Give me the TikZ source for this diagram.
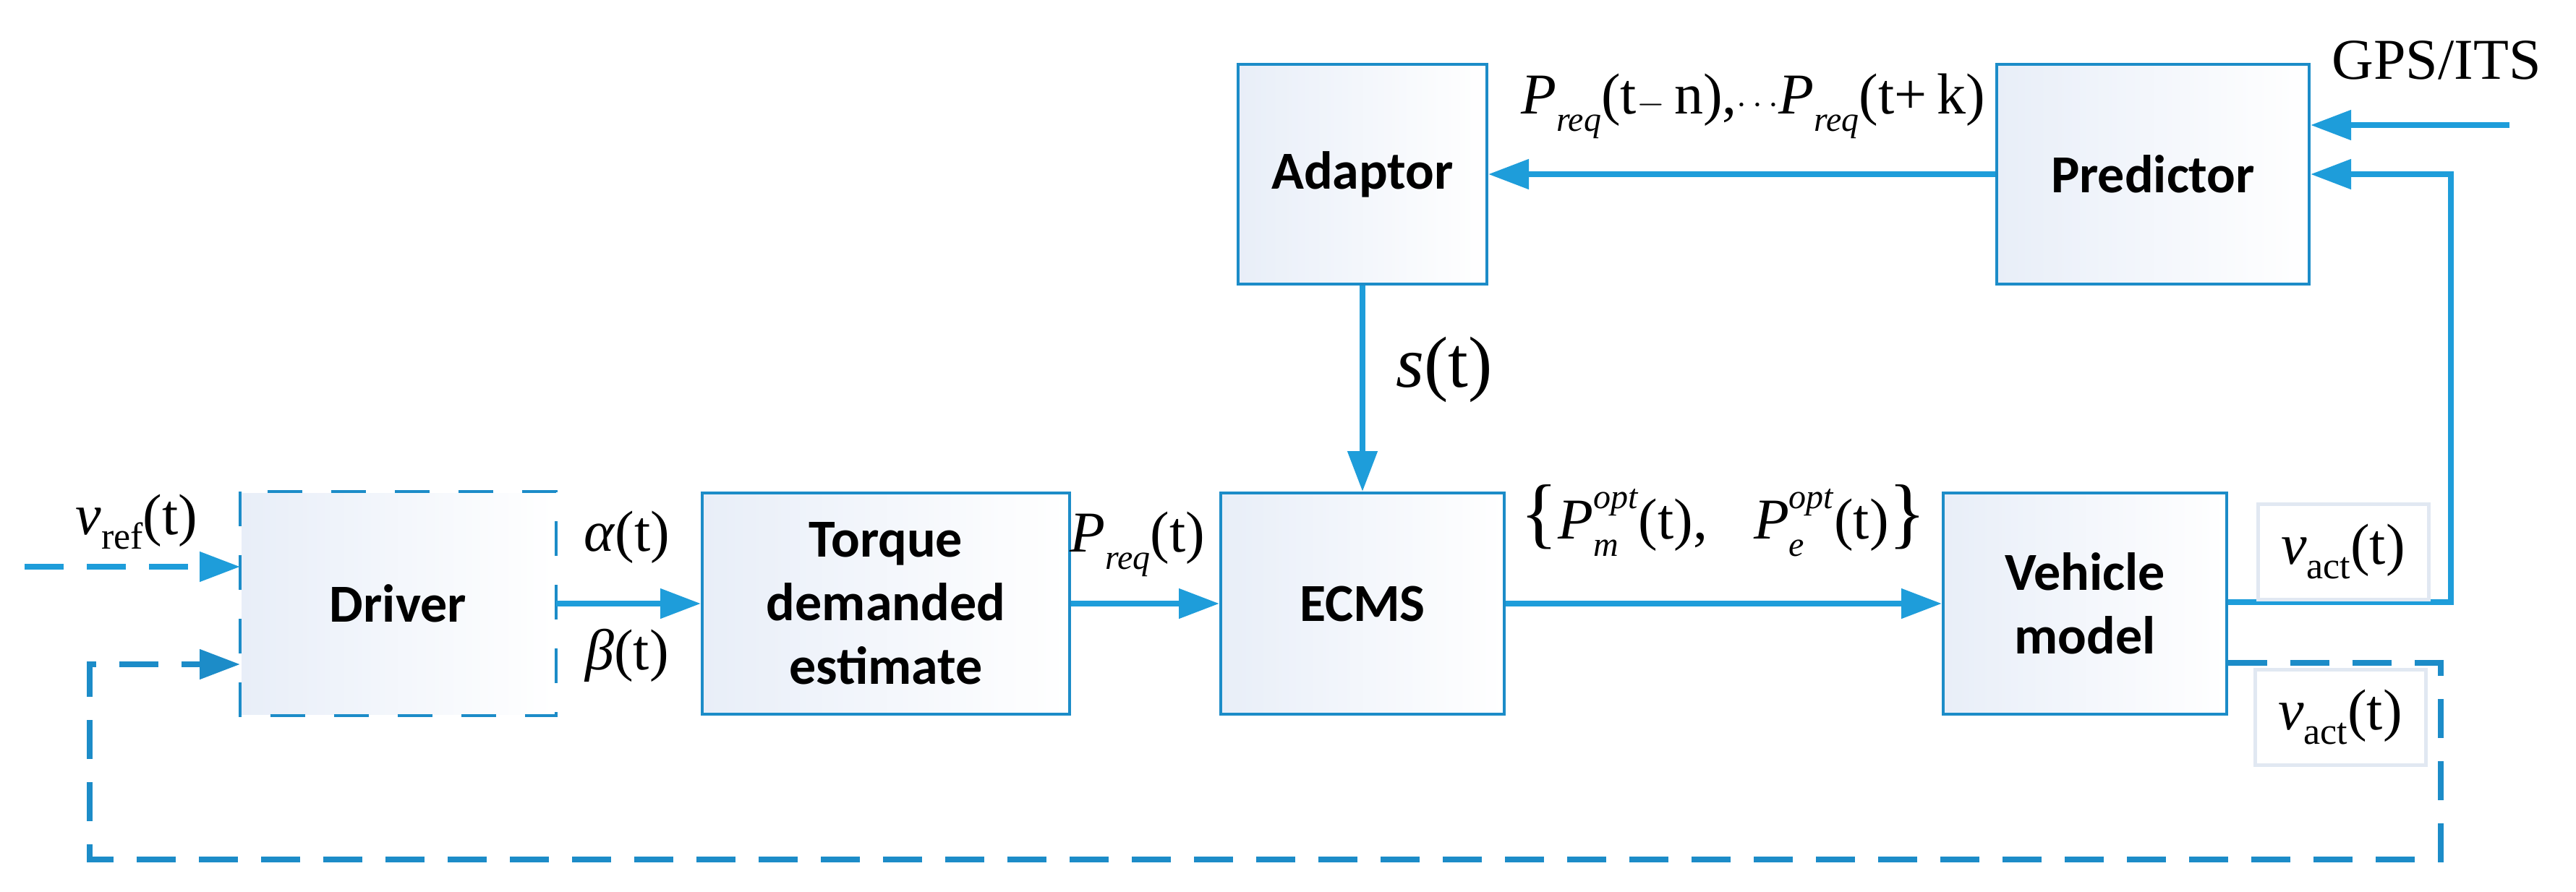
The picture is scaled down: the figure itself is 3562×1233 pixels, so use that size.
\documentclass[tikz,border=0pt]{standalone}
\usepackage{fontspec}
\setmainfont{Liberation Serif}
\newfontfamily\boxfont{Carlito}
\usetikzlibrary{arrows.meta}
\definecolor{ln}{RGB}{28,140,200}
\definecolor{ar}{RGB}{30,157,218}
\definecolor{sh}{RGB}{232,238,248}
\definecolor{lb}{RGB}{225,232,242}
\newcommand{\mysupsub}[2]{\raisebox{-12pt}{\fontsize{24}{33}\selectfont\begin{tabular}[b]{@{}l@{}}\textit{#1}\\\textit{#2}\end{tabular}}}
\newcommand{\mysub}[1]{\raisebox{-0.3em}{\fontsize{24}{26}\selectfont\textit{#1}}}
\begin{document}
\begin{tikzpicture}[x=0.5pt,y=-0.5pt,
  blk/.style={draw=ln,line width=2pt,shading=axis,shading angle=135,left color=sh,right color=white,
    font=\boxfont\bfseries\fontsize{37}{44}\selectfont,align=center,inner sep=0pt},
  arr/.style={draw=ar,line width=4pt,-{Triangle[length=28pt,width=20pt]}},
  dsh/.style={dash pattern=on 27pt off 16pt},
  lab/.style={font=\fontsize{40}{44}\selectfont,inner sep=0pt},
  vbox/.style={draw=lb,line width=2.5pt,minimum width=118pt,minimum height=66pt,font=\fontsize{40}{44}\selectfont,inner sep=0pt}]
\useasboundingbox (0,0) rectangle (3562,1233);
\fill[white] (0,0) rectangle (3562,1233);
% blocks
\node[blk,draw=none,minimum width=216.5pt,minimum height=153pt] (drv) at (550.5,835) {Driver};
\draw[draw=ln,line width=2pt,dash pattern=on 24pt off 20pt] (drv.north west) rectangle (drv.south east);
\node[blk,minimum width=254pt,minimum height=153pt] (tq) at (1225,835) {Torque\\demanded\\estimate};
\node[blk,minimum width=196pt,minimum height=153pt] (ecms) at (1884,835) {ECMS};
\node[blk,minimum width=196pt,minimum height=153pt] (veh) at (2883,835) {Vehicle\\model};
\node[blk,minimum width=172pt,minimum height=152pt] (ad) at (1884,241) {Adaptor};
\node[blk,minimum width=216pt,minimum height=152pt] (pr) at (2977,241) {Predictor};
% coordinates
\coordinate (vin) at (34,784);
\coordinate (gps) at (3470,173);
\coordinate (r1) at (3389,833);
\coordinate (r2) at (3389,241);
\coordinate (d1) at (3375,917);
\coordinate (d2) at (3375,1189);
\coordinate (d3) at (124,1189);
\coordinate (d4) at (124,919);
% connectors
\draw[arr,dsh] (vin) -- (drv.west |- vin);
\draw[arr] (drv.east) -- (tq.west);
\draw[arr] (tq.east) -- (ecms.west);
\draw[arr] (ecms.east) -- (veh.west);
\draw[arr] (ad.south) -- (ecms.north);
\draw[arr] (pr.west) -- (ad.east);
\draw[arr] (gps) -- (pr.east |- gps);
\draw[arr] (veh.east |- r1) -- (r1) -- (r2) -- (pr.east);
\draw[arr,dsh,draw=ln] (veh.east |- d1) -- (d1) -- (d2) -- (d3) -- (d4) -- (drv.west |- d4);
% labels
\node[lab] (l1) at (189,722) {\textit{v}\raisebox{-0.25em}{\fontsize{26}{28}\selectfont ref}(t)};
\node[lab] (l2) at (867,743) {\textit{α}(t)};
\node[lab] (l3) at (867,907) {\textit{β}(t)};
\node[lab] (l4) at (1573,753) {\textit{P}\mysub{req}(t)};
\node[lab] (l5) at (1997,511) {\fontsize{50}{54}\selectfont\textit{s}(t)};
\node[lab] (l6) at (2424,147) {\textit{P}\mysub{req}(t$-$\,n),$\cdots$\textit{P}\mysub{req}(t+\,k)};
\node[lab] (l7) at (2383,723) {\fontsize{54}{58}\selectfont\{\fontsize{40}{44}\selectfont\textit{P}\mysupsub{opt}{m}(t),\hspace{0.8em}\textit{P}\mysupsub{opt}{e}(t)\fontsize{54}{58}\selectfont\}};
\node[lab] (l8) at (3369,83) {GPS/ITS};
\node[vbox] (v1) at (3240,763) {\textit{v}\raisebox{-0.25em}{\fontsize{26}{28}\selectfont act}(t)};
\node[vbox] (v2) at (3236,992) {\textit{v}\raisebox{-0.25em}{\fontsize{26}{28}\selectfont act}(t)};
\end{tikzpicture}
\end{document}
